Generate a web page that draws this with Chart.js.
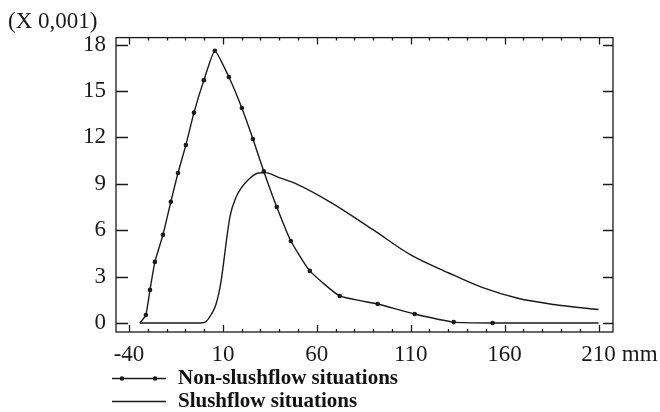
<!DOCTYPE html>
<html>
<head>
<meta charset="utf-8">
<script src="https://cdn.jsdelivr.net/npm/chart.js@4.4.1/dist/chart.umd.min.js"></script>
<style>
html, body { margin: 0; padding: 0; background: #fff; }
#wrap { position: relative; width: 660px; height: 412px; }
#legend { position: absolute; left: 112px; top: 366px; font: bold 21px "Liberation Serif", "Times New Roman", serif; color: #111; }
#legend .item { height: 23px; display: flex; align-items: center; }
#legend canvas { margin-right: 12px; }
</style>
</head>
<body>
<div id="wrap">
  <canvas id="chart" width="660" height="412"></canvas>
  <div id="legend"></div>
</div>
<script>
// значения (мм / x0,001)
var nonSlushX = [-34.2, -31, -28.8, -26.2, -21.9, -17.7, -13.9, -9.7, -5.4, -0.1, 5.7, 13.2, 20.1, 26.0, 31.8, 38.7, 46.2, 56.3, 72.2, 92.4, 112.1, 132.9, 153.6, 210];
var nonSlushY = [0, 0.52, 2.14, 3.95, 5.7, 7.84, 9.7, 11.5, 13.6, 15.7, 17.6, 15.9, 13.9, 11.9, 9.8, 7.5, 5.3, 3.37, 1.75, 1.23, 0.58, 0.06, 0, 0];

var slushX = [-34.2, -2, 1, 4, 6.3, 8.9, 10.5, 12.3, 13.8, 16.9, 19.6, 23.8, 29, 32.5, 40, 49.9, 67.4, 90.3, 110, 130, 148, 167, 186, 210];
var slushY = [0, 0, 0.1, 0.6, 1.2, 2.6, 4.0, 5.7, 6.9, 8.1, 8.7, 9.3, 9.7, 9.72, 9.4, 8.95, 7.8, 6.0, 4.4, 3.25, 2.3, 1.6, 1.2, 0.87];

var xTicks = [-40, 10, 60, 110, 160, 210];
var yTicks = [0, 3, 6, 9, 12, 15, 18];
var seriesNames = ['Non-slushflow situations', 'Slushflow situations'];

var FONT = '"Liberation Serif", "Times New Roman", serif';
var FSIZE = 23;
var INK = '#1a1a1a';

function toPoints(xs, ys) {
    return xs.map(function(x, i) { return { x: x, y: ys[i] }; });
}

// у крайних точек маркеров нет
var nonSlushRadius = nonSlushX.map(function(_, i) {
    return (i === 0 || i === nonSlushX.length - 1) ? 0 : 2.3;
});

// рамка с засечками внутрь + "mm" после последней подписи
var framePlugin = {
    id: 'frame',
    afterDraw: function(chart) {
        var ctx = chart.ctx, a = chart.chartArea;
        var xs = chart.scales.x, ys = chart.scales.y;
        ctx.save();
        ctx.strokeStyle = INK;
        ctx.lineWidth = 1.3;
        ctx.strokeRect(a.left, a.top, a.right - a.left, a.bottom - a.top);

        ctx.beginPath();
        yTicks.forEach(function(v) {
            var py = Math.round(ys.getPixelForValue(v)) + 0.5;
            ctx.moveTo(a.left, py); ctx.lineTo(a.left + 12, py);
            ctx.moveTo(a.right, py); ctx.lineTo(a.right - 10, py);
        });
        for (var v = xTicks[0]; v <= xTicks[xTicks.length - 1]; v += 10) {
            var len = xTicks.indexOf(v) >= 0 ? 7 : 3;
            var px = Math.round(xs.getPixelForValue(v)) + 0.5;
            ctx.moveTo(px, a.bottom); ctx.lineTo(px, a.bottom - len);
            ctx.moveTo(px, a.top); ctx.lineTo(px, a.top + len);
        }
        ctx.stroke();

        var last = xTicks[xTicks.length - 1];
        ctx.font = FSIZE + 'px ' + FONT;
        ctx.fillStyle = INK;
        ctx.textAlign = 'left';
        ctx.textBaseline = 'middle';
        var w = ctx.measureText(String(last)).width;
        ctx.fillText('mm', xs.getPixelForValue(last) + w / 2 + 6, a.bottom + 9 + FSIZE * 1.2 / 2);
        ctx.restore();
    }
};

var chart = new Chart(document.getElementById('chart'), {
    type: 'line',
    data: {
        datasets: [
            {
                label: seriesNames[0],
                data: toPoints(nonSlushX, nonSlushY),
                borderColor: INK,
                borderWidth: 1.4,
                backgroundColor: INK,
                pointRadius: nonSlushRadius,
                pointBorderWidth: 0,
                tension: 0.15,
                fill: false,
            },
            {
                label: seriesNames[1],
                data: toPoints(slushX, slushY),
                borderColor: INK,
                borderWidth: 1.4,
                pointRadius: 0,
                cubicInterpolationMode: 'monotone',
                fill: false,
            },
        ],
    },
    options: {
        responsive: false,
        animation: false,
        layout: { padding: { left: 8, right: 47, top: 0, bottom: 0 } },
        plugins: {
            legend: { display: false },
            tooltip: { enabled: false },
            title: {
                display: true,
                text: '(X 0,001)',
                align: 'start',
                color: INK,
                font: { family: FONT, size: FSIZE, weight: 'normal' },
                padding: { top: 8, bottom: 2 },
            },
        },
        scales: {
            x: {
                type: 'linear',
                min: -46.9,
                max: 217.7,
                grid: { display: false, drawTicks: false },
                border: { display: false },
                afterBuildTicks: function(s) { s.ticks = xTicks.map(function(v) { return { value: v }; }); },
                afterFit: function(s) { s.height = 80; },
                ticks: { color: INK, padding: 9, maxRotation: 0, font: { family: FONT, size: FSIZE } },
            },
            y: {
                min: -0.58,
                max: 18.45,
                grid: { display: false, drawTicks: false },
                border: { display: false },
                afterBuildTicks: function(s) { s.ticks = yTicks.map(function(v) { return { value: v }; }); },
                afterFit: function(s) { s.width = 108; },
                ticks: { color: INK, padding: 10, font: { family: FONT, size: FSIZE } },
            },
        },
    },
    plugins: [framePlugin],
});

// легенда: образец линии + подпись, в две строки
var legendEl = document.getElementById('legend');
chart.data.datasets.forEach(function(ds, i) {
    var row = document.createElement('div');
    row.className = 'item';
    var c = document.createElement('canvas');
    c.width = 54; c.height = 10;
    var g = c.getContext('2d');
    g.strokeStyle = INK; g.fillStyle = INK; g.lineWidth = 1.4;
    g.beginPath(); g.moveTo(0, 5.5); g.lineTo(54, 5.5); g.stroke();
    if (i === 0) {
        [10, 43].forEach(function(x) { g.beginPath(); g.arc(x, 5.5, 2.3, 0, Math.PI * 2); g.fill(); });
    }
    var t = document.createElement('span');
    t.textContent = ds.label;
    row.appendChild(c);
    row.appendChild(t);
    legendEl.appendChild(row);
});
</script>
</body>
</html>
